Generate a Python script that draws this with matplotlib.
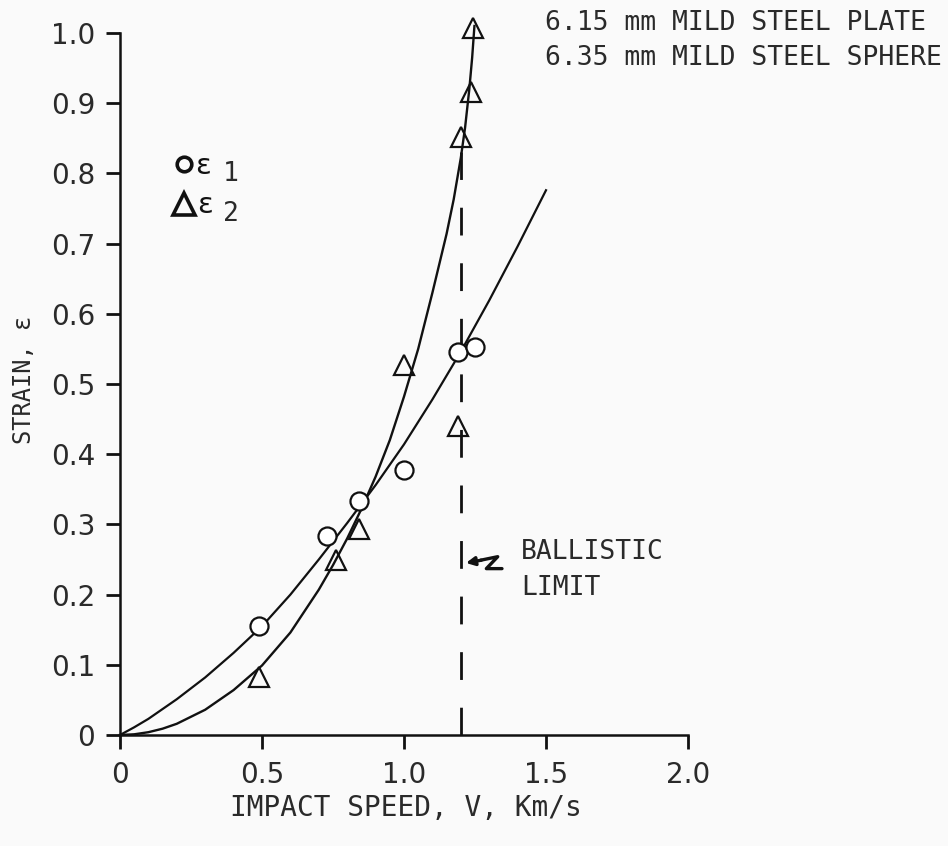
import matplotlib
matplotlib.use("Agg")
import matplotlib.pyplot as plt

# ---- data ----
eps1_speed = [0.49, 0.73, 0.84, 1.00, 1.19, 1.25]
eps1_strain = [0.155, 0.283, 0.333, 0.377, 0.545, 0.553]

eps2_speed = [0.49, 0.76, 0.84, 1.00, 1.19, 1.20, 1.235, 1.243]
eps2_strain = [0.083, 0.250, 0.294, 0.527, 0.440, 0.852, 0.916, 1.007]

# fitted curves as drawn
fit1_speed = [0.0, 0.05, 0.1, 0.2, 0.3, 0.4, 0.5, 0.6, 0.7, 0.8, 0.9, 1.0, 1.1, 1.2, 1.3, 1.4, 1.5]
fit1_strain = [0.0, 0.011, 0.023, 0.051, 0.082, 0.117, 0.155, 0.200, 0.250, 0.302, 0.356, 0.414, 0.478, 0.546, 0.619, 0.696, 0.776]

fit2_speed = [0.0, 0.05, 0.1, 0.15, 0.2, 0.3, 0.4, 0.5, 0.6, 0.7, 0.75, 0.8, 0.85, 0.9, 0.95,
              1.0, 1.05, 1.1, 1.15, 1.175, 1.2, 1.215, 1.23, 1.24, 1.248]
fit2_strain = [0.0, 0.001, 0.004, 0.009, 0.016, 0.036, 0.064, 0.099, 0.146, 0.207, 0.242, 0.280,
               0.322, 0.368, 0.420, 0.482, 0.550, 0.630, 0.714, 0.763, 0.822, 0.865, 0.920,
               0.965, 1.010]

ballistic_limit = 1.2
ballistic_top = 0.83

x_ticks = [0, 0.5, 1.0, 1.5, 2.0]
x_ticklabels = ["0", "0.5", "1.0", "1.5", "2.0"]
y_ticks = [0, 0.1, 0.2, 0.3, 0.4, 0.5, 0.6, 0.7, 0.8, 0.9, 1.0]
y_ticklabels = ["0", "0.1", "0.2", "0.3", "0.4", "0.5", "0.6", "0.7", "0.8", "0.9", "1.0"]

INK = "#111111"
TXT = "#2a2a2a"
BG = "#fafafa"

fig = plt.figure(figsize=(9.48, 8.46), dpi=100, facecolor=BG)
ax = fig.add_axes([120 / 948, (846 - 735) / 846, 568 / 948, 702 / 846])
ax.set_facecolor(BG)
ax.set_xlim(0, 2.0)
ax.set_ylim(0, 1.0)

for s in ("top", "right"):
    ax.spines[s].set_visible(False)
for s in ("left", "bottom"):
    ax.spines[s].set_linewidth(1.8)
    ax.spines[s].set_color(INK)

ax.set_xticks(x_ticks)
ax.set_xticklabels(x_ticklabels)
ax.set_yticks(y_ticks)
ax.set_yticklabels(y_ticklabels)
ax.tick_params(axis="both", direction="out", length=10, width=2, color=INK,
               labelsize=20, labelcolor=TXT)
ax.tick_params(axis="x", pad=9)
ax.tick_params(axis="y", pad=8)
for lab in ax.get_xticklabels() + ax.get_yticklabels():
    lab.set_family("DejaVu Sans")

# curves
ax.plot(fit1_speed, fit1_strain, color=INK, lw=1.6, clip_on=False, zorder=2,
        solid_joinstyle="round")
ax.plot(fit2_speed, fit2_strain, color=INK, lw=1.7, clip_on=False, zorder=2,
        solid_joinstyle="round")

# ballistic limit dashed line
ax.plot([ballistic_limit, ballistic_limit], [0, ballistic_top], color=INK, lw=2.0,
        linestyle=(0, (10, 10)), clip_on=False, zorder=1)

# data markers
ax.plot(eps1_speed, eps1_strain, linestyle="none", marker="o", ms=13,
        mfc="white", mec=INK, mew=1.6, clip_on=False, zorder=3)
ax.plot(eps2_speed, eps2_strain, linestyle="none", marker="^", ms=15,
        mfc="none", mec=INK, mew=1.6, clip_on=False, zorder=3)

# legend (hand-placed like the original)
ax.plot([0.225], [0.813], marker="o", ms=10.5, mfc="none", mec=INK, mew=2.6,
        clip_on=False)
ax.plot([0.225], [0.756], marker="^", ms=16, mfc="none", mec=INK, mew=2.6,
        clip_on=False)
mono = "DejaVu Sans Mono"
ax.text(0.292, 0.811, "\u03b5", fontsize=21, family="DejaVu Sans", color=INK,
        ha="center", va="center")
ax.text(0.39, 0.799, "1", fontsize=19, family=mono, color=TXT,
        ha="center", va="center")
ax.text(0.299, 0.755, "\u03b5", fontsize=21, family="DejaVu Sans", color=INK,
        ha="center", va="center")
ax.text(0.39, 0.742, "2", fontsize=19, family=mono, color=TXT,
        ha="center", va="center")

# title text
fig.text(545 / 948, 1 - 23.5 / 846, "6.15 mm MILD STEEL PLATE", fontsize=19,
         family=mono, color=TXT, ha="left", va="center")
fig.text(545 / 948, 1 - 58 / 846, "6.35 mm MILD STEEL SPHERE", fontsize=19,
         family=mono, color=TXT, ha="left", va="center")

# ballistic limit label
fig.text(521 / 948, 1 - 552 / 846, "BALLISTIC", fontsize=19, family=mono,
         color=TXT, ha="left", va="center")
fig.text(521 / 948, 1 - 588 / 846, "LIMIT", fontsize=19, family=mono,
         color=TXT, ha="left", va="center")

# squiggle arrow pointing at the dashed line
sq_x = [1.345, 1.290, 1.330, 1.270]
sq_y = [0.237, 0.237, 0.254, 0.249]
ax.plot(sq_x, sq_y, color=INK, lw=2.4, clip_on=False, solid_capstyle="round")
ax.annotate("", xy=(1.218, 0.245), xytext=(1.272, 0.249),
            arrowprops=dict(arrowstyle="-|>,head_length=0.5,head_width=0.25",
                            color=INK, lw=2.4, shrinkA=0, shrinkB=0),
            annotation_clip=False)

# axis labels
fig.text(406 / 948, 1 - 808 / 846, "IMPACT SPEED, V, Km/s", fontsize=20,
         family=mono, color=TXT, ha="center", va="center")
fig.text(24 / 948, 1 - 380 / 846, "STRAIN, \u03b5", fontsize=17, family=mono,
         color=TXT, ha="center", va="center", rotation=90)

fig.savefig("out.png", dpi=100, facecolor=BG)
